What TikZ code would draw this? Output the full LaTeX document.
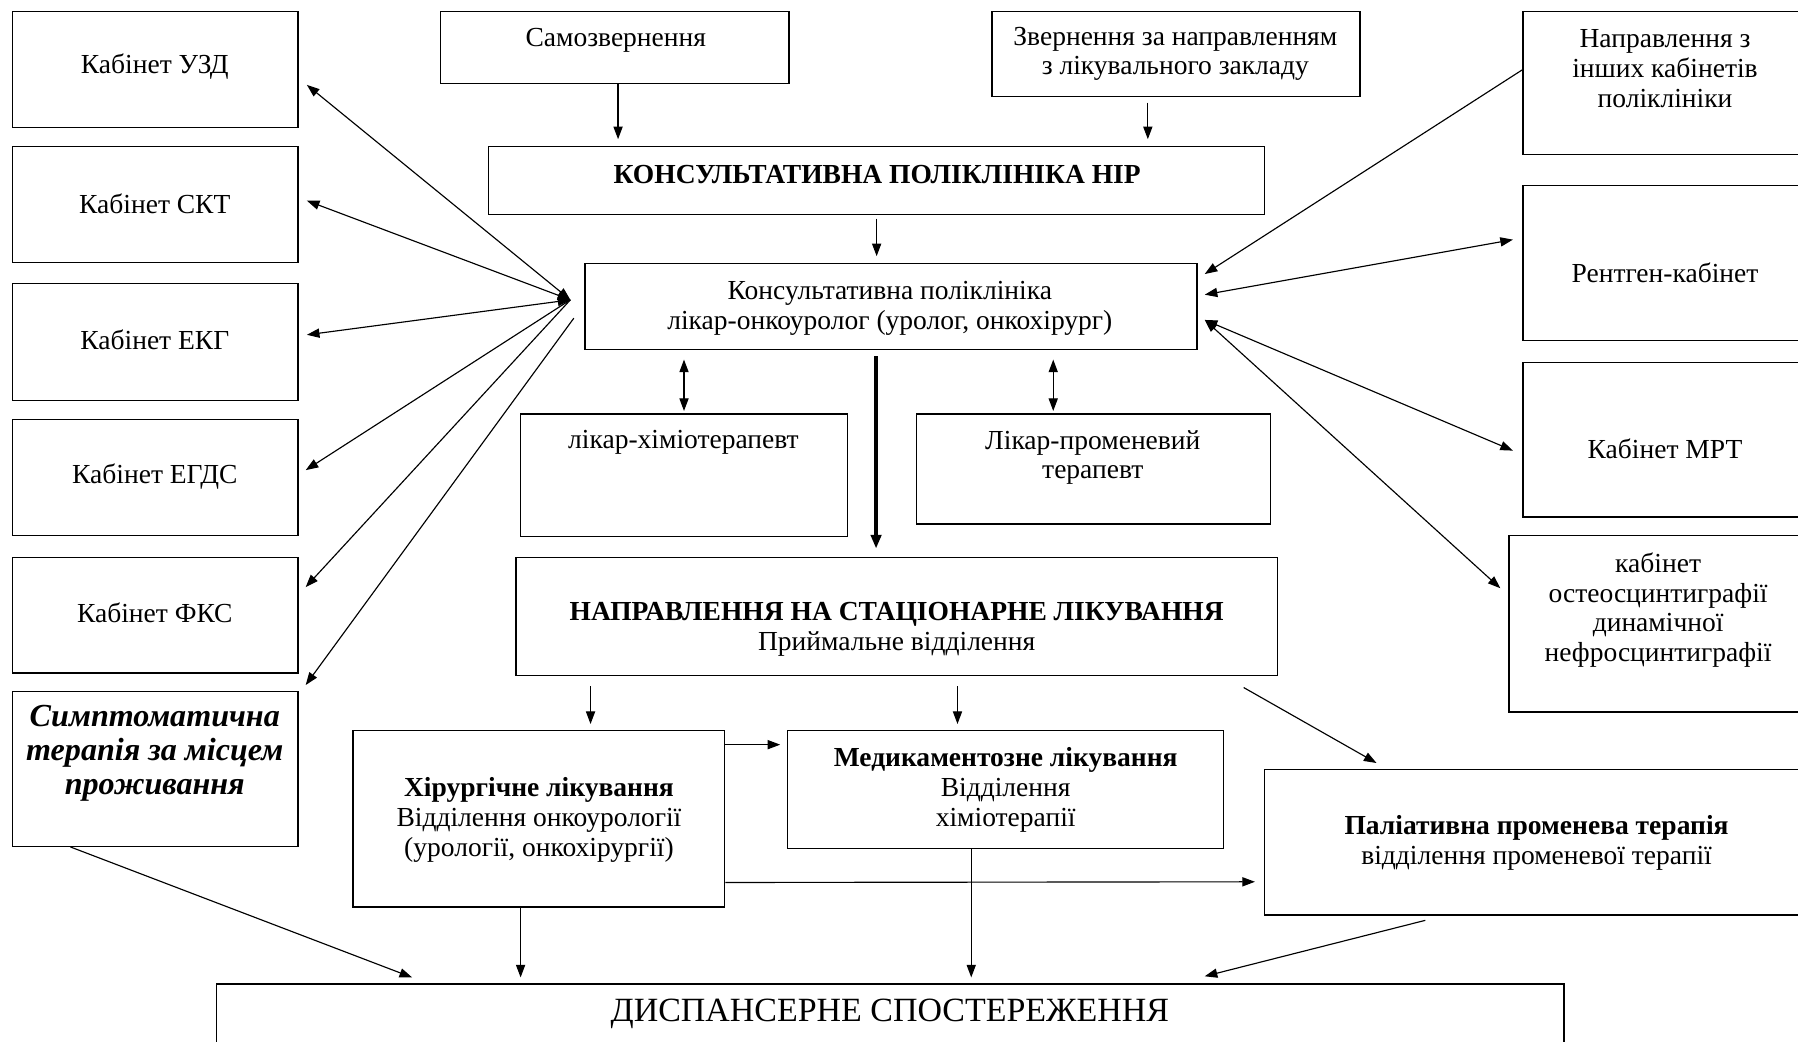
\documentclass[tikz,border=0pt]{standalone}
\usepackage{fontspec}
\setmainfont{Liberation Serif}
\usetikzlibrary{arrows.meta,calc,fit}

\tikzset{
  box/.style={draw,line width=0.6pt,inner sep=0pt},
  txt/.style={align=center,inner sep=0pt,yshift=-1.5pt,font=\fontsize{12}{13}\selectfont},
  arr/.style={-{Triangle[length=5.5pt,width=4pt]},line width=0.5pt},
  biarr/.style={{Triangle[length=5.5pt,width=4pt]}-{Triangle[length=5.5pt,width=4pt]},line width=0.5pt}
}

\begin{document}
\begin{tikzpicture}[x=0.5pt,y=-0.5pt]
\clip (0,0) rectangle (1568,908);

% Boxes, left column
\node[box,fit={(11,10) (260,111)}] (uzd) {};
\node[box,fit={(11,128) (260,229)}] (skt) {};
\node[box,fit={(11,247) (260,349)}] (ekg) {};
\node[box,fit={(11,366) (260,467)}] (egds) {};
\node[box,fit={(11,486) (260,587)}] (fks) {};
\node[box,fit={(11,603) (260,738)}] (simpt) {};

% Boxes, middle
\node[box,fit={(384,10) (688,73)}] (samo) {};
\node[box,fit={(865,10) (1186,84)}] (zvern) {};
\node[box,fit={(426,128) (1103,187)}] (nir) {};
\node[box,fit={(510,230) (1044,305)}] (konsult) {};
\node[box,fit={(454,361) (739,468)}] (khimio) {};
\node[box,fit={(799,361) (1108,457)}] (promen) {};
\node[box,fit={(450,486) (1114,589)}] (stac) {};
\node[box,fit={(308,637) (632,791)}] (khirurg) {};
\node[box,fit={(687,637) (1067,740)}] (medik) {};
\node[box,fit={(1103,671) (1590,798)}] (paliat) {};
\node[box,fit={(189,858) (1364,930)}] (disp) {};

% Boxes, right column
\node[box,fit={(1328,10) (1590,135)}] (inshi) {};
\node[box,fit={(1328,162) (1590,297)}] (rentgen) {};
\node[box,fit={(1328,316) (1590,451)}] (mrt) {};
\node[box,fit={(1316,467) (1590,621)}] (osteo) {};

% Writing
\node[txt] (uzd-t) at (135,55) {Кабінет УЗД};
\node[txt] (skt-t) at (135,175) {Кабінет СКТ};
\node[txt] (ekg-t) at (135,293) {Кабінет ЕКГ};
\node[txt] (egds-t) at (135,413) {Кабінет ЕГДС};
\node[txt] (fks-t) at (135,531) {Кабінет ФКС};
\node[txt,font=\fontsize{14}{14.75}\selectfont\bfseries\itshape] (simpt-t) at (135,654)
  {Симптоматична\\терапія за місцем\\проживання};
\node[txt] (samo-t) at (537,32) {Самозвернення};
\node[txt] (zvern-t) at (1025,44) {Звернення за направленням\\з лікувального закладу};
\node[txt,font=\fontsize{12}{13}\selectfont\bfseries] (nir-t) at (765,149) {КОНСУЛЬТАТИВНА ПОЛІКЛІНІКА НІР};
\node[txt] (konsult-t) at (776,266) {Консультативна поліклініка\\лікар-онкоуролог (уролог, онкохірург)};
\node[txt] (khimio-t) at (596,383) {лікар-хіміотерапевт};
\node[txt] (promen-t) at (953,396) {Лікар-променевий\\терапевт};
\node[txt] (stac-t) at (782,546) {\textbf{НАПРАВЛЕННЯ НА СТАЦІОНАРНЕ ЛІКУВАННЯ}\\Приймальне відділення};
\node[txt] (khirurg-t) at (470,712) {\textbf{Хірургічне лікування}\\Відділення онкоурології\\(урології, онкохірургії)};
\node[txt] (medik-t) at (877,686) {\textbf{Медикаментозне лікування}\\Відділення\\хіміотерапії};
\node[txt] (paliat-t) at (1340,732) {\textbf{Паліативна променева терапія}\\відділення променевої терапії};
\node[txt,font=\fontsize{14.8}{15}\selectfont] (disp-t) at (776,881) {ДИСПАНСЕРНЕ СПОСТЕРЕЖЕННЯ};
\node[txt] (inshi-t) at (1452,57) {Направлення з\\інших кабінетів\\поліклініки};
\node[txt] (rentgen-t) at (1452,235) {Рентген-кабінет};
\node[txt] (mrt-t) at (1452,388) {Кабінет МРТ};
\node[txt] (osteo-t) at (1446,529) {кабінет\\остеосцинтиграфії\\динамічної\\нефросцинтиграфії};

% Arrows, top
\coordinate (samo-a) at ($(samo.south)+(3,0)$);
\coordinate (zvern-a) at ($(zvern.south)+(-24.5,0)$);
\coordinate (promen-a) at ($(promen.north)+(-35,0)$);
\coordinate (thick-a) at ($(konsult.south)+(-13,0)$);
\draw[arr,shorten >=3pt] (samo-a) -- (samo-a |- nir.north);
\draw[arr,shorten <=2.5pt,shorten >=3pt] (zvern-a) -- (zvern-a |- nir.north);
\draw[arr,shorten <=1.5pt,shorten >=3pt] (nir.south) -- (nir.south |- konsult.north);
\draw[biarr,shorten <=4pt,shorten >=1pt] (khimio.north |- konsult.south) -- (khimio.north);
\draw[biarr,shorten <=4pt,shorten >=1pt] (promen-a |- konsult.south) -- (promen-a);
\draw[-{Triangle[length=6pt,width=4.5pt]},line width=1.6pt,shorten <=2.5pt,shorten >=3.5pt]
  (thick-a) -- (thick-a |- stac.north);

% Arrows, left fan
\coordinate (hub) at ($(konsult.west)+(-12,-6)$);
\coordinate (hub2) at ($(konsult.west)+(-9,10)$);
\draw[biarr] (hub) -- ($(uzd.east)+(7,13.5)$);
\draw[biarr] (hub) -- ($(skt.east)+(7,-3.5)$);
\draw[biarr] (hub) -- ($(ekg.east)+(7,-6)$);
\draw[arr] (hub) -- ($(egds.east)+(6,-6.5)$);
\draw[arr] (hub) -- ($(fks.east)+(6,-24.5)$);
\draw[arr] (hub2) -- ($(simpt.north east)+(6,-5)$);

% Arrows, right fan
\draw[arr] ($(inshi.west)+(0,-11.5)$) -- ($(konsult.east)+(6,-28.5)$);
\draw[biarr] ($(konsult.east)+(6,-10.5)$) -- ($(rentgen.west)+(-8,-20.5)$);
\draw[biarr] ($(konsult.east)+(6,11.5)$) -- ($(mrt.west)+(-8,9.5)$);
\draw[biarr] ($(konsult.east)+(6,11.5)$) -- ($(osteo.west)+(-7,-31)$);

% Arrows, bottom
\coordinate (khirurg-a) at ($(khirurg.north)+(45,0)$);
\coordinate (medik-a) at ($(medik.north)+(-42,0)$);
\coordinate (khirurg-b) at ($(khirurg.south)+(-16,0)$);
\coordinate (medik-b) at ($(medik.south)+(-30,0)$);
\draw[arr,shorten <=4.5pt,shorten >=2.5pt] (khirurg-a |- stac.south) -- (khirurg-a);
\draw[arr,shorten <=4.5pt,shorten >=2.5pt] (medik-a |- stac.south) -- (medik-a);
\draw[arr] ($(stac.south east)+(-30,10)$) -- ($(paliat.north west)+(98,-5)$);
\draw[arr] ($(khirurg.north east)+(0,13)$) -- ($(medik.north west)+(-6,13)$);
\draw[arr] ($(khirurg.south east)+(0,-22)$) -- ($(paliat.west)+(-8,34.5)$);
\draw[arr,shorten >=2.5pt] (khirurg-b) -- (khirurg-b |- disp.north);
\draw[arr,shorten >=2.5pt] (medik-b) -- (medik-b |- disp.north);
\draw[arr] ($(paliat.south)+(-103.5,4)$) -- ($(disp.north east)+(-314,-6)$);
\draw[arr] ($(simpt.south west)+(51,0)$) -- ($(disp.north west)+(171,-5)$);
\end{tikzpicture}
\end{document}
